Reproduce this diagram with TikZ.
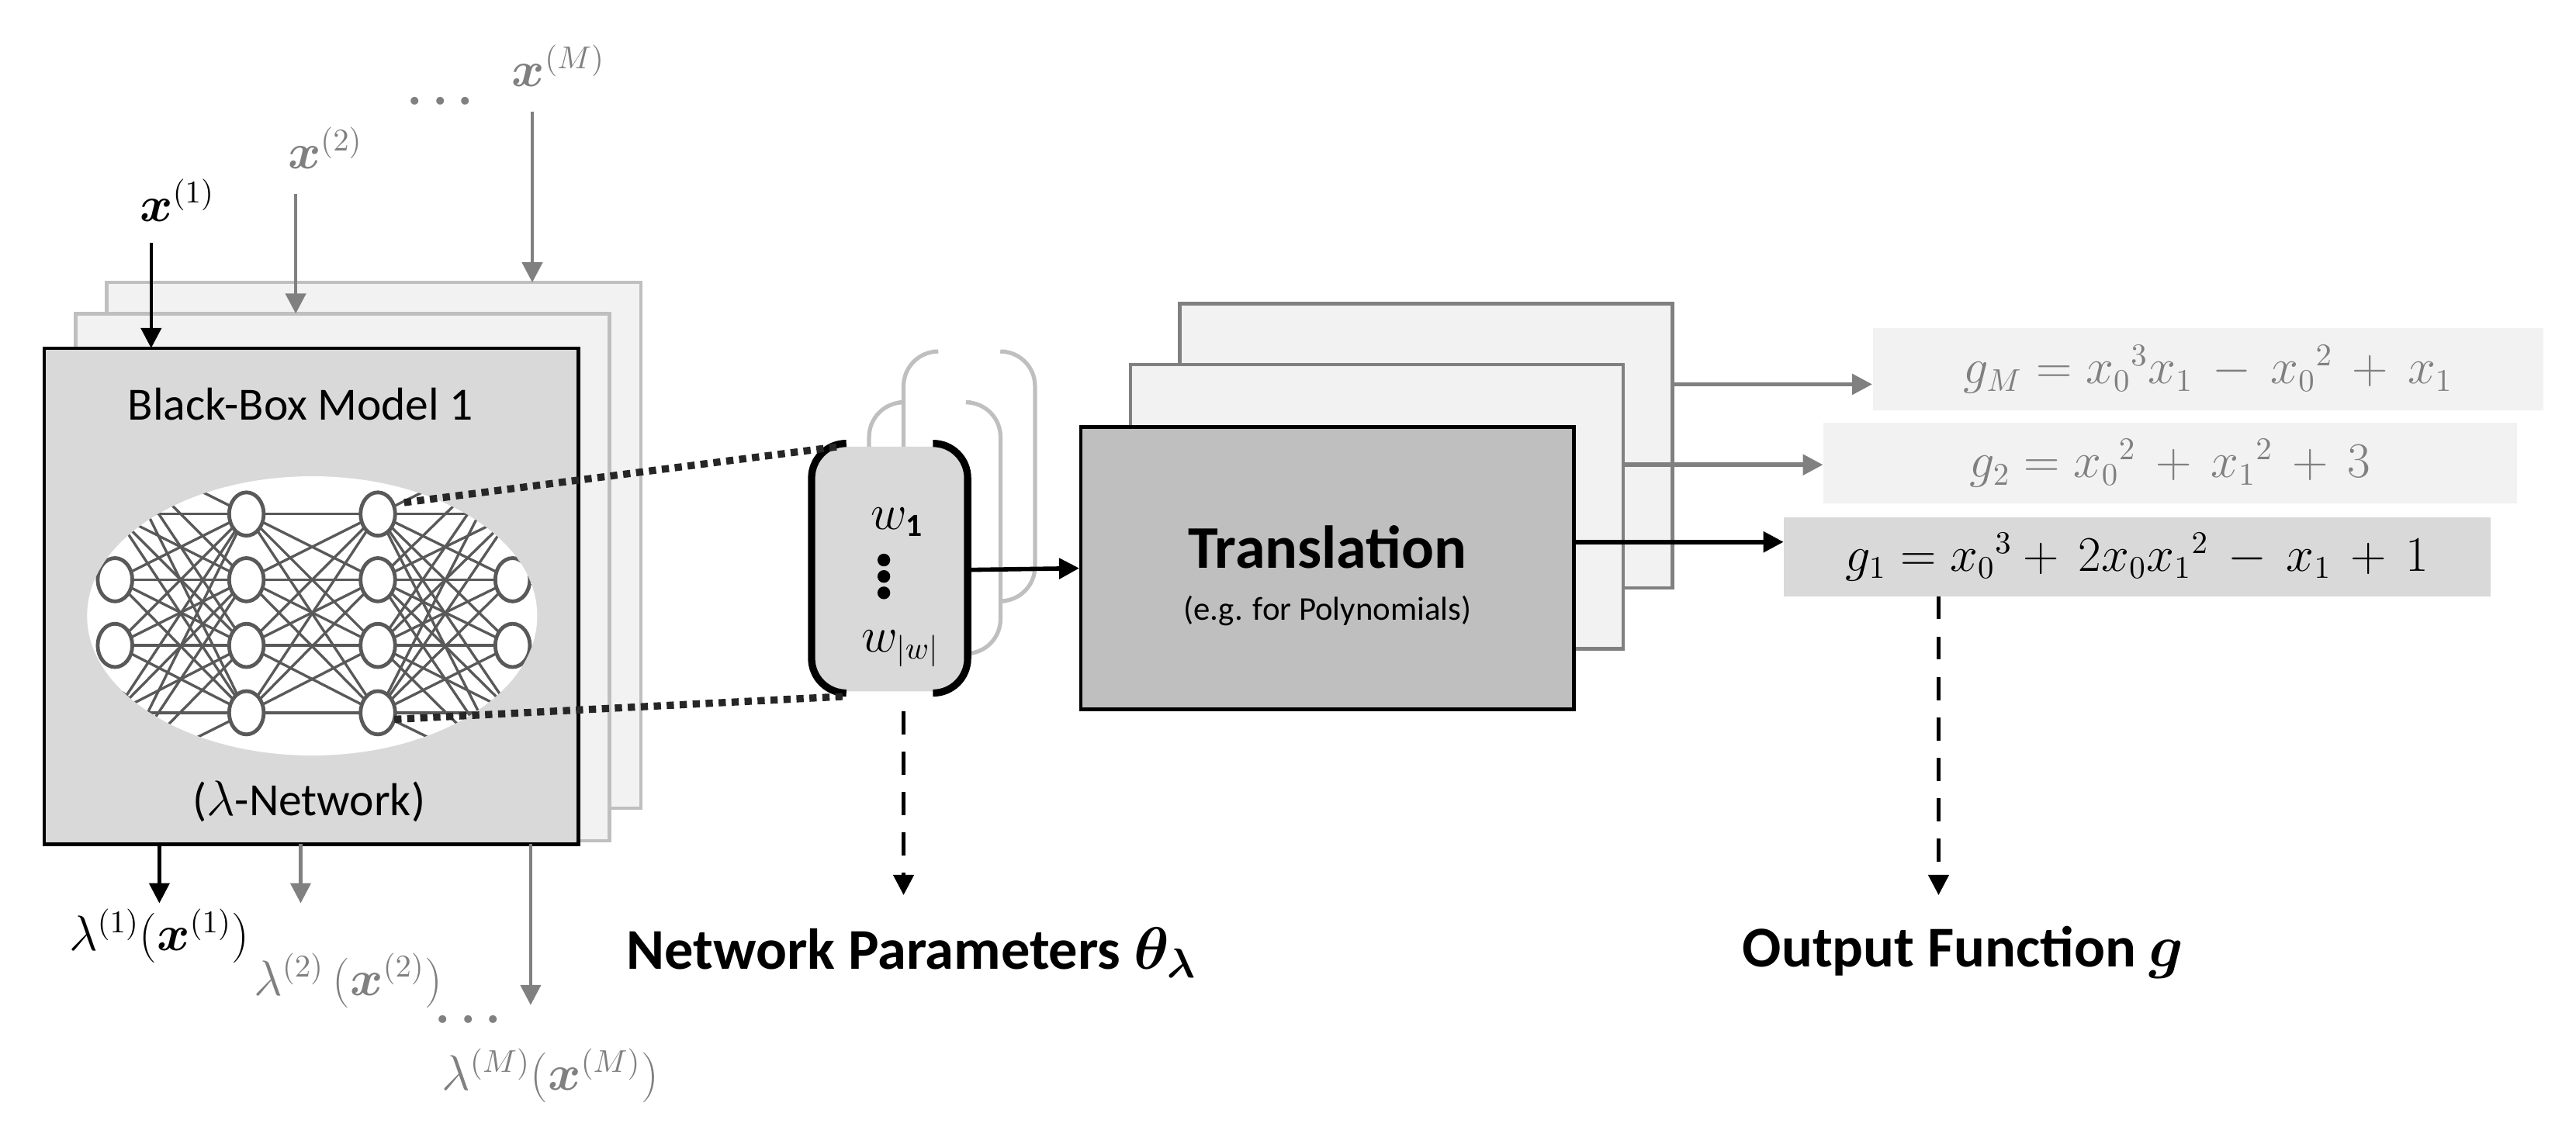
\documentclass[tikz,border=0pt]{standalone}
\usepackage{fontspec}
\setmainfont{Carlito}
\usepackage{bm}
\usetikzlibrary{arrows.meta,shapes.geometric}
\definecolor{lgray}{HTML}{F2F2F2}
\definecolor{mgray}{HTML}{D9D9D9}
\definecolor{dgray}{HTML}{BFBFBF}
\definecolor{agray}{HTML}{808080}
\tikzset{
  box/.style={draw,line width=1.2pt,inner sep=0pt},
  arr/.style={-{Triangle[length=7pt,width=7pt]},line width=1.5pt},
  dsh/.style={dash pattern=on 8pt off 6pt},
  neuron/.style={draw=black!65,fill=white,line width=1.3pt,ellipse,minimum width=12pt,minimum height=15pt,inner sep=0pt},
  lbl/.style={inner sep=0pt,font=\fontsize{16}{18}\selectfont},
}
\begin{document}
\begin{tikzpicture}[x=0.02cm,y=-0.02cm]
	\useasboundingbox (0,0) rectangle (1568,686);
	% black-box models
	\draw[box,draw=dgray,fill=lgray] (65,172) rectangle (390,492);
	\draw[box,draw=dgray,fill=lgray] (46,191) rectangle (371,512);
	\draw[box,fill=mgray] (27,212) rectangle (352,514);
	\coordinate (mod1) at (92,212);
	\coordinate (mod2) at (180,191);
	\coordinate (modM) at (324,172);
	\node[lbl] (bbtitle) at (183,246) {Black-Box Model 1};
	\node[lbl] (lamnet) at (188,488) {($\lambda$-Network)};
	% lambda network
	\fill[white] (190,375) ellipse (137 and 85);
	\begin{scope}
		\clip (190,375) ellipse (137 and 85);
		\foreach \y [count=\i] in {313,353,393,434} {
			\coordinate (h1\i) at (150,\y);
			\coordinate (h2\i) at (230,\y);
		}
		\foreach \y [count=\i] in {273,313,353,393,434,474} {
			\coordinate (in\i) at (70,\y);
			\coordinate (out\i) at (312,\y);
		}
		\foreach \i in {1,...,6} \foreach \j in {1,...,4} {
			\draw[black!65,line width=0.9pt] (in\i) -- (h1\j);
			\draw[black!65,line width=0.9pt] (out\i) -- (h2\j);
		}
		\foreach \i in {1,...,4} \foreach \j in {1,...,4}
			\draw[black!65,line width=0.9pt] (h1\i) -- (h2\j);
		\foreach \i in {1,...,6} {
			\node[neuron] at (in\i) {};
			\node[neuron] at (out\i) {};
		}
		\foreach \i in {1,...,4} {
			\node[neuron] at (h1\i) {};
			\node[neuron] (n2\i) at (h2\i) {};
		}
	\end{scope}
	% inputs
	\node[lbl] (x1) at (108,122) {$\bm{x}^{(1)}$};
	\node[lbl,text=agray] (x2) at (198,90) {$\bm{x}^{(2)}$};
	\node[lbl,text=agray] (xdots) at (268,62) {$\bm{\cdots}$};
	\node[lbl,text=agray] (xM) at (340,40) {$\bm{x}^{(M)}$};
	\draw[arr,line width=1.2pt] (92,148) -- (mod1);
	\draw[arr,line width=1.2pt,agray] (180,118) -- (mod2);
	\draw[arr,line width=1.2pt,agray] (324,68) -- (modM);
	% outputs
	\node[lbl] (l1) at (97,570) {$\lambda^{(1)}(\bm{x}^{(1)})$};
	\node[lbl,text=agray] (l2) at (212,597) {$\lambda^{(2)}\,(\bm{x}^{(2)})$};
	\node[lbl,text=agray] (ldots) at (285,621) {$\bm{\cdots}$};
	\node[lbl,text=agray] (lM) at (335,655) {$\lambda^{(M)}(\bm{x}^{(M)})$};
	\draw[arr,line width=1.2pt] (97,514) -- (97,550);
	\draw[arr,line width=1.2pt,agray] (183,514) -- (183,550);
	\draw[arr,line width=1.2pt,agray] (323,514) -- (323,612);
	% weights
	\draw[line width=1.4pt,dgray,rounded corners=12pt] (568,214) -- (550,214) -- (550,366) -- (568,366);
	\draw[line width=1.4pt,dgray,rounded corners=12pt] (612,214) -- (630,214) -- (630,366) -- (612,366);
	\draw[line width=1.4pt,dgray,rounded corners=12pt] (547,245) -- (529,245) -- (529,398) -- (547,398);
	\draw[line width=1.4pt,dgray,rounded corners=12pt] (591,245) -- (609,245) -- (609,398) -- (591,398);
	\fill[mgray,rounded corners=12pt] (495,272) rectangle (588,421);
	\draw[line width=2.5pt,rounded corners=12pt] (515,270) -- (494,270) -- (494,422) -- (515,422);
	\draw[line width=2.5pt,rounded corners=12pt] (568,270) -- (589,270) -- (589,422) -- (568,422);
	\coordinate (wr) at (589,347);
	\node[lbl,font=\fontsize{16}{18}\selectfont] (w1) at (546,318) {$w_{\mathbf{1}}$};
	\foreach \y in {341,351,361} \fill (538,\y) circle (2.2pt);
	\node[lbl,font=\fontsize{16}{18}\selectfont] (ww) at (548,395) {$w_{|w|}$};
	\draw[line width=2.5pt,dotted,black!85] (246,306) -- (510,272);
	\draw[line width=2.5pt,dotted,black!85] (240,438) -- (515,424);
	\draw[arr,dsh,line width=1.2pt] (550,433) -- (550,545);
	\node[font=\bfseries\fontsize{20}{24}\selectfont] (netpar) at (555,580) {Network Parameters $\bm{\theta_\lambda}$};
	% translation
	\draw[box,draw=agray,fill=lgray] (718,185) rectangle (1018,358);
	\draw[box,draw=agray,fill=lgray] (688,222) rectangle (988,395);
	\node[box,fill=dgray,minimum width=300*0.02cm,minimum height=172*0.02cm] (trans) at (808,346) {};
	\node[font=\bfseries\fontsize{21}{24}\selectfont] (tlabel) at (808,333) {Translation};
	\node[font=\fontsize{11.5}{13}\selectfont] (tsub) at (808,372) {(e.g. for Polynomials)};
	\draw[arr] (wr) -- (trans.west);
	% output functions
	\node[fill=lgray,text=agray,minimum width=408*0.02cm,minimum height=50*0.02cm,font=\fontsize{16}{18}\selectfont] (gM) at (1344,225) {$g_M = {x_0}^3x_1\, -\, {x_0}^2\, +\, x_1$};
	\node[fill=lgray,text=agray,minimum width=422*0.02cm,minimum height=49*0.02cm,font=\fontsize{16}{18}\selectfont] (g2) at (1321,282) {$g_2 = {x_0}^2\, +\, {x_1}^2\, +\, 3$};
	\node[fill=mgray,minimum width=430*0.02cm,minimum height=48*0.02cm,font=\fontsize{16}{18}\selectfont] (g1) at (1301,339) {$g_1 = {x_0}^3 +\, 2x_0{x_1}^2\, -\, x_1\, +\, 1$};
	\draw[arr] (trans.east |- 0,330) -- (g1.west |- 0,330);
	\draw[arr,agray] (988,283) -- (g2.west |- 0,283);
	\draw[arr,agray] (1018,234) -- (gM.west |- 0,234);
	\draw[arr,dsh,line width=1.2pt] (1180,363) -- (1180,545);
	\node[font=\bfseries\fontsize{20}{24}\selectfont] (outfun) at (1195,580) {Output Function $\bm{g}$};
\end{tikzpicture}
\end{document}
